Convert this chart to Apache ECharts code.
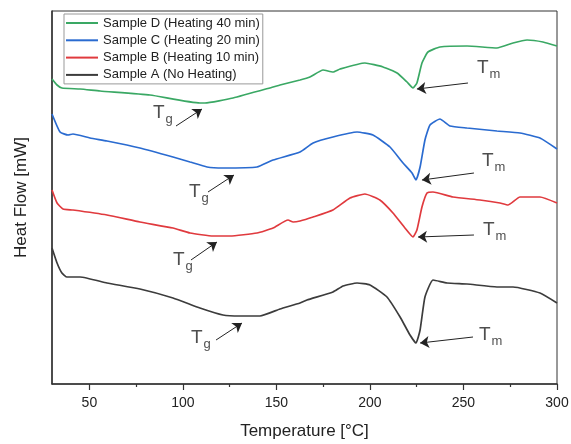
<!doctype html>
<html lang="en">
<head>
<meta charset="UTF-8">
<title>DSC</title>
<style>html,body{margin:0;padding:0;background:#fff}#main{width:571px;height:444px}</style>
</head>
<body>
<div id="main"></div>
<script src="https://cdn.jsdelivr.net/npm/echarts@6/dist/echarts.min.js"></script>
<script>
// temperature in °C, heat flow in arbitrary units (curves are stacked)
const tempD = [30, 32.7, 35.3, 45.0, 55.7, 82.4, 109.1, 111.8, 126.8, 148.2, 151.9, 162.6, 167.9, 174.9, 180.2, 184.0, 197.3, 207.0, 214.5, 219.8, 223.0, 225.1, 227.8, 231.0, 237.4, 251.9, 267.9, 276.5, 284.0, 292.5, 300];
const flowD = [305, 299, 296, 295, 293, 289, 281, 281, 286, 297, 299, 304, 307, 314, 312, 315, 321, 317, 311, 302, 296, 301, 321, 332, 337, 338, 336, 341, 344, 342, 338];

const tempC = [30, 34.3, 38.6, 41.2, 50.3, 59.4, 77.0, 94.7, 103.8, 112.9, 121.5, 139.6, 148.2, 162.6, 169.6, 180.2, 193.1, 201.6, 210.7, 217.7, 222.5, 224.6, 226.8, 229.4, 232.1, 237.4, 242.8, 251.9, 267.9, 280.2, 290.9, 300];
const flowC = [270, 252, 249, 250, 246, 243, 236, 227, 222, 217, 216, 217, 224, 232, 241, 247, 252, 249, 237, 221, 211, 204, 217, 244, 259, 265, 258, 256, 253, 251, 246, 235];

const tempB = [30, 32.7, 35.9, 41.2, 59.4, 77.0, 94.7, 103.8, 116.1, 125.2, 139.6, 148.2, 156.2, 158.9, 162.6, 169.6, 180.2, 189.3, 197.3, 205.3, 212.3, 218.7, 223.0, 225.1, 227.8, 230.5, 233.7, 244.4, 258.8, 269.5, 273.8, 280.2, 290.9, 300];
const flowB = [194, 181, 175, 174, 169, 162, 156, 151, 148, 148, 151, 156, 164, 162, 163, 167, 174, 186, 190, 184, 171, 156, 147, 154, 177, 191, 192, 187, 184, 181, 179, 187, 187, 181];

const tempA = [30, 32.7, 35.3, 38.0, 45.0, 59.4, 77.0, 94.7, 109.1, 121.4, 130.5, 141.2, 151.9, 162.6, 166.3, 180.2, 185.6, 193.1, 200.0, 209.1, 216.1, 221.4, 224.6, 226.8, 229.4, 233.7, 241.2, 251.9, 267.9, 276.5, 290.9, 300];
const flowA = [136, 121, 111, 107, 107, 101, 95, 86, 76, 69, 68, 68, 75, 81, 84, 92, 98, 101, 99, 87, 67, 49, 41, 54, 87, 104, 101, 100, 97, 97, 91, 81];

const names = ['Sample D (Heating 40 min)', 'Sample C (Heating 20 min)', 'Sample B (Heating 10 min)', 'Sample A (No Heating)'];
const colors = ['#3aa864', '#2a6bd0', '#e03a3e', '#3c3c3c'];
const xTicks = [50, 100, 150, 200, 250, 300];
const xMinorTicks = [75, 125, 175, 225, 275];

// annotation arrows [fromT, fromFlow, toT, toFlow]
const tgArrows = [[96.3, 258, 110.2, 275], [113.4, 192, 127.3, 209], [104.3, 124, 118.2, 142], [117.7, 44, 131.6, 61]];
const tmArrows = [[252.4, 301, 225.1, 295], [255.6, 211, 227.8, 204], [255.6, 149, 225.7, 147], [255.1, 47, 226.8, 41]];
// label anchors (top-left of the "T")
const tgLabels = [[84.0, 281], [103.2, 202], [94.7, 134], [104.3, 56]];
const tmLabels = [[257.2, 326], [259.9, 233], [260.4, 164], [258.3, 59]];

const font = 'Liberation Sans, Arial, sans-serif';
const zip = (xs, ys) => xs.map((x, i) => [x, ys[i]]);
const curves = [zip(tempD, flowD), zip(tempC, flowC), zip(tempB, flowB), zip(tempA, flowA)];

const myChart = echarts.init(document.getElementById('main'));

const lineSeries = curves.map((d, i) => ({
    name: names[i],
    type: 'line',
    data: d,
    symbol: 'none',
    smooth: 0.15,
    lineStyle: {color: colors[i], width: 1.7},
    itemStyle: {color: colors[i]},
    silent: true
}));

const arrows = tgArrows.concat(tmArrows).map(a => [{coord: [a[0], a[1]]}, {coord: [a[2], a[3]]}]);

const noteSeries = function (data, sub) {
    return {
        type: 'scatter',
        data: data,
        symbolSize: 0,
        silent: true,
        label: {
            show: true,
            position: [0, 0],
            align: 'left',
            verticalAlign: 'top',
            formatter: '{t|T}{s|' + sub + '}',
            rich: {
                t: {fontSize: 19, lineHeight: 18, color: '#222', fontFamily: font, verticalAlign: 'top'},
                s: {fontSize: 13, lineHeight: 12, color: '#222', fontFamily: font, verticalAlign: 'top', padding: [10, 0, 0, 1]}
            }
        }
    };
};

const tgSeries = noteSeries(tgLabels, 'g');
tgSeries.markLine = {
    silent: true,
    symbol: ['none', 'arrow'],
    symbolSize: 9,
    label: {show: false},
    lineStyle: {color: '#222', width: 1, type: 'solid'},
    data: arrows
};

const option = {
    animation: false,
    grid: {left: 52, right: 14, top: 11, bottom: 60, show: true, borderColor: '#333', borderWidth: 1, outerBoundsMode: 'none'},
    legend: {
        data: names,
        orient: 'vertical',
        left: 64,
        top: 14,
        itemWidth: 32,
        itemHeight: 14,
        itemGap: 3.3,
        padding: [2, 3, 2, 1],
        borderColor: '#999',
        borderWidth: 1,
        backgroundColor: '#fff',
        itemStyle: {opacity: 0},
        lineStyle: {width: 2},
        textStyle: {fontSize: 13, color: '#222', fontFamily: font, lineHeight: 14}
    },
    xAxis: [
        {
            type: 'value', min: 30, max: 300, position: 'bottom',
            name: 'Temperature [°C]', nameLocation: 'middle', nameGap: 39,
            nameTextStyle: {fontSize: 17, color: '#222', fontFamily: font},
            axisLine: {lineStyle: {color: '#333', width: 1.5}},
            axisTick: {customValues: xTicks, length: 6, lineStyle: {color: '#333', width: 1.2}},
            axisLabel: {customValues: xTicks, fontSize: 14, color: '#222', fontFamily: font, margin: 12},
            splitLine: {show: false}
        },
        {
            type: 'value', min: 30, max: 300, position: 'bottom',
            axisLine: {show: false},
            axisTick: {customValues: xMinorTicks, length: 3, lineStyle: {color: '#333', width: 1.2}},
            axisLabel: {show: false},
            splitLine: {show: false}
        }
    ],
    yAxis: {
        type: 'value', min: 0, max: 373,
        name: 'Heat Flow [mW]', nameLocation: 'middle', nameGap: 22,
        nameTextStyle: {fontSize: 17, color: '#222', fontFamily: font},
        axisLine: {show: true, lineStyle: {color: '#333', width: 1.5}},
        axisTick: {show: false},
        axisLabel: {show: false},
        splitLine: {show: false}
    },
    series: lineSeries.concat([tgSeries, noteSeries(tmLabels, 'm')])
};

myChart.setOption(option);
</script>
</body>
</html>
